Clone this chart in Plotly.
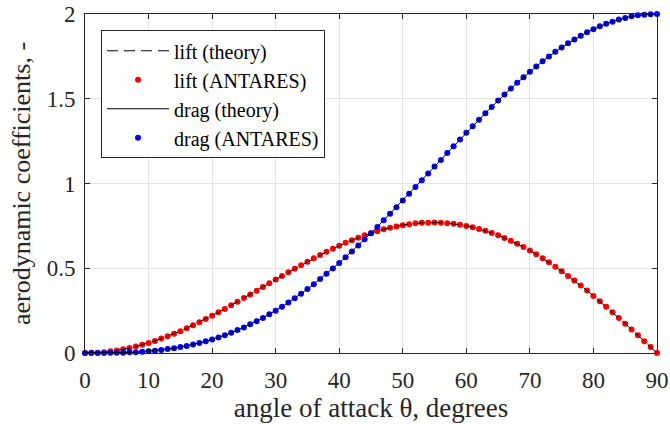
import plotly.graph_objects as go

theta = list(range(0, 91))

lift_theory = [0.000, 0.001, 0.002, 0.005, 0.010, 0.015, 0.022, 0.029, 0.038, 0.048,
               0.059, 0.071, 0.085, 0.099, 0.114, 0.129, 0.146, 0.164, 0.182, 0.200,
               0.220, 0.240, 0.260, 0.281, 0.302, 0.324, 0.345, 0.367, 0.389, 0.411,
               0.433, 0.455, 0.476, 0.497, 0.518, 0.539, 0.559, 0.578, 0.597, 0.615,
               0.633, 0.650, 0.665, 0.680, 0.694, 0.707, 0.719, 0.730, 0.739, 0.747,
               0.754, 0.760, 0.765, 0.768, 0.769, 0.770, 0.769, 0.766, 0.762, 0.757,
               0.750, 0.742, 0.732, 0.721, 0.708, 0.694, 0.679, 0.662, 0.644, 0.625,
               0.604, 0.582, 0.559, 0.535, 0.509, 0.483, 0.455, 0.427, 0.398, 0.368,
               0.337, 0.305, 0.273, 0.240, 0.207, 0.173, 0.139, 0.104, 0.070, 0.035,
               0.000]

drag_theory = [0.000, 0.000, 0.000, 0.000, 0.001, 0.001, 0.002, 0.004, 0.005, 0.008,
               0.010, 0.014, 0.018, 0.023, 0.028, 0.035, 0.042, 0.050, 0.059, 0.069,
               0.080, 0.092, 0.105, 0.119, 0.135, 0.151, 0.169, 0.187, 0.207, 0.228,
               0.250, 0.273, 0.298, 0.323, 0.350, 0.377, 0.406, 0.436, 0.467, 0.498,
               0.531, 0.565, 0.599, 0.634, 0.671, 0.707, 0.744, 0.783, 0.821, 0.860,
               0.899, 0.939, 0.979, 1.019, 1.059, 1.100, 1.139, 1.180, 1.220, 1.260,
               1.299, 1.338, 1.376, 1.415, 1.452, 1.489, 1.525, 1.560, 1.594, 1.627,
               1.660, 1.690, 1.721, 1.749, 1.777, 1.802, 1.827, 1.850, 1.871, 1.892,
               1.910, 1.927, 1.942, 1.955, 1.967, 1.977, 1.986, 1.992, 1.996, 1.999,
               2.000]

lift_antares = list(lift_theory)
drag_antares = list(drag_theory)

x_ticks = [0, 10, 20, 30, 40, 50, 60, 70, 80, 90]
y_ticks = [0, 0.5, 1, 1.5, 2]
y_tick_labels = ["0", "0.5", "1", "1.5", "2"]

FONT = "'Liberation Serif', 'Times New Roman', Times, 'Noto Serif', 'DejaVu Serif', serif"
AX = "#262626"

fig = go.Figure()
fig.add_trace(go.Scatter(x=theta, y=lift_antares, mode="markers", name="lift (ANTARES)",
                         marker=dict(color="#ff0000", size=6), cliponaxis=False, legendrank=2))
fig.add_trace(go.Scatter(x=theta, y=drag_antares, mode="markers", name="drag (ANTARES)",
                         marker=dict(color="#0000ff", size=6), cliponaxis=False, legendrank=4))
fig.add_trace(go.Scatter(x=theta, y=lift_theory, mode="lines", name="lift (theory)",
                         line=dict(color="black", width=1, dash="11px,6px"), legendrank=1))
fig.add_trace(go.Scatter(x=theta, y=drag_theory, mode="lines", name="drag (theory)",
                         line=dict(color="black", width=1), legendrank=3))

fig.update_layout(
    width=670, height=424,
    margin=dict(l=85, r=13, t=14, b=71),
    paper_bgcolor="white", plot_bgcolor="white",
    font=dict(family=FONT, color="#262626", size=20),
    showlegend=True,
    legend=dict(x=0.028, y=0.952, xanchor="left", yanchor="top",
                bgcolor="white", bordercolor="#262626", borderwidth=1,
                font=dict(family=FONT, size=20, color="black"),
                traceorder="normal", itemwidth=62, tracegroupgap=0),
    xaxis=dict(range=[0, 90], tickvals=x_ticks, showgrid=True, gridcolor="#e3e3e3",
               zeroline=False, showline=True, linecolor=AX, linewidth=1, mirror="ticks",
               ticks="inside", ticklen=5, tickcolor=AX, automargin=False,
               ticklabelstandoff=6,
               tickfont=dict(family=FONT, size=23, color="#262626"),
               title=dict(text="angle of attack θ, degrees", standoff=6,
                          font=dict(family=FONT, size=27, color="#262626"))),
    yaxis=dict(range=[0, 2], tickvals=y_ticks, ticktext=y_tick_labels, showgrid=True,
               gridcolor="#e3e3e3", zeroline=False, showline=True, linecolor=AX, linewidth=1,
               mirror="ticks", ticks="inside", ticklen=5, tickcolor=AX, automargin=False,
               ticklabelstandoff=4,
               tickfont=dict(family=FONT, size=23, color="#262626"),
               title=dict(text="aerodynamic coefficients, -", standoff=8,
                          font=dict(family=FONT, size=26, color="#262626"))),
)

fig.write_html("out.html")
